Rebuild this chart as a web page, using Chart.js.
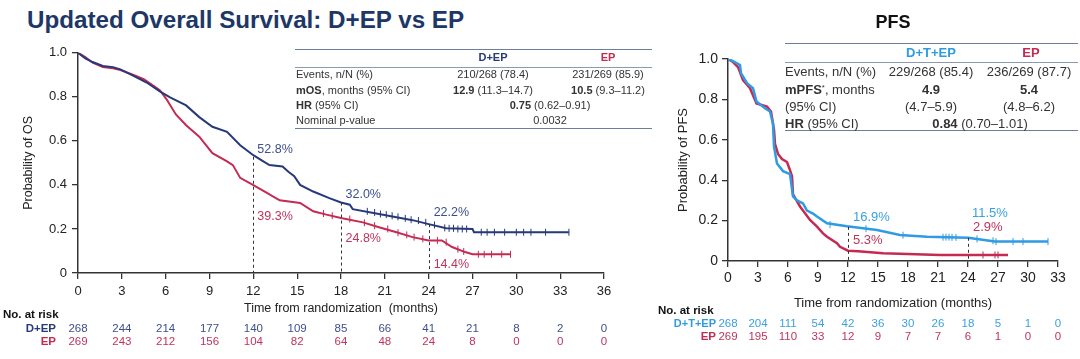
<!DOCTYPE html>
<html><head><meta charset="utf-8">
<script src="https://cdn.jsdelivr.net/npm/chart.js@4/dist/chart.umd.min.js"></script>
<style>
body{margin:0;width:1080px;height:359px;background:#fff;position:relative;overflow:hidden;font-family:"Liberation Sans",Arial,sans-serif;color:#333;}
.t{position:absolute;white-space:nowrap;line-height:1.2;}
.hl{position:absolute;height:0;}
canvas{position:absolute;}
sup{font-size:0.6em;vertical-align:0.5em;line-height:0;}
</style></head><body>
<canvas id="os" width="620" height="280" style="left:0;top:40px;width:620px;height:280px"></canvas>
<canvas id="pfs" width="420" height="285" style="left:660px;top:30px;width:420px;height:285px"></canvas>
<script>
// ---------- DATA ----------
const osTitle = 'Updated Overall Survival: D+EP vs EP';
const pfsTitle = 'PFS';
const osSeriesNames = ['D+EP', 'EP'];
const pfsSeriesNames = ['D+T+EP', 'EP'];
const osYTickLabels = ['0', '0.2', '0.4', '0.6', '0.8', '1.0'];
const pfsYTickLabels = ['0', '0.2', '0.4', '0.6', '0.8', '1.0'];

// OS Kaplan-Meier curves (months, probability)
const osDepTime = [0,0.5,1.0,1.7,2.4,2.9,3.8,4.7,5.6,6.3,7.4,8.3,9.2,10.2,11.1,12.0,12.6,13.1,14.0,14.4,14.8,15.2,16.1,17.2,18.0,18.6,18.8,20.6,22.9,24.0,25.2,27.0,27.1,33.6];
const osDepProb = [1.0,0.975,0.958,0.94,0.935,0.925,0.895,0.865,0.825,0.798,0.761,0.708,0.664,0.641,0.58,0.535,0.51,0.49,0.484,0.46,0.44,0.40,0.37,0.34,0.32,0.31,0.29,0.268,0.24,0.222,0.203,0.20,0.185,0.185];
const osEpTime = [0,0.5,1.0,1.7,2.4,2.9,3.8,4.5,5.6,6.05,6.7,7.4,8.3,9.2,10.2,10.6,11.1,12.0,12.9,13.8,14.7,15.2,16.1,17.0,18.0,19.5,20.6,21.8,22.9,24.0,24.9,25.6,26.5,27.0,29.6];
const osEpProb = [1.0,0.98,0.955,0.935,0.93,0.922,0.9,0.88,0.83,0.79,0.72,0.671,0.619,0.544,0.507,0.49,0.432,0.399,0.365,0.33,0.322,0.318,0.28,0.265,0.25,0.23,0.208,0.185,0.163,0.148,0.148,0.118,0.095,0.085,0.085];
const osDepCensTime = [19.8,20.3,20.7,21.1,21.5,21.9,22.4,22.8,23.3,23.8,24.4,25.1,25.4,25.7,26.0,26.3,26.6,27.6,28.0,28.5,29.2,30.0,30.5,31.0,32.0,33.6];
const osDepCensProb = [0.28,0.275,0.268,0.265,0.26,0.255,0.248,0.242,0.238,0.23,0.218,0.205,0.203,0.203,0.2,0.2,0.2,0.185,0.185,0.185,0.185,0.185,0.185,0.185,0.185,0.185];
const osEpCensTime = [16.8,17.4,18.6,19.6,20.3,21.2,21.9,22.5,23.0,23.6,24.6,25.2,26.0,26.4,27.4,27.8,28.3,29.0,29.6];
const osEpCensProb = [0.27,0.26,0.245,0.228,0.215,0.2,0.183,0.173,0.163,0.155,0.148,0.14,0.108,0.098,0.085,0.085,0.085,0.085,0.085];

// PFS Kaplan-Meier curves
const pfsDtepTime = [0,0.5,1.2,1.3,1.9,2.5,2.85,3.7,4.2,4.5,4.6,4.9,5.5,6.2,6.5,6.9,7.5,7.9,8.5,8.9,9.9,11.9,14.9,17.2,19.9,24.0,24.9,26.7,32.0];
const pfsDtepProb = [1.0,0.99,0.97,0.93,0.88,0.855,0.79,0.756,0.74,0.68,0.566,0.483,0.445,0.43,0.32,0.30,0.285,0.25,0.235,0.22,0.187,0.172,0.153,0.129,0.12,0.115,0.109,0.096,0.096];
const pfsEpTime = [0,0.5,1.0,1.5,2.2,2.85,3.9,4.3,4.6,4.7,5.0,5.4,5.9,6.2,6.4,6.5,7.2,7.5,8.2,8.9,9.5,9.9,10.9,11.2,12.0,13.0,15.5,21.2,28.0];
const pfsEpProb = [1.0,0.985,0.96,0.895,0.855,0.78,0.764,0.74,0.65,0.58,0.53,0.505,0.49,0.45,0.42,0.33,0.27,0.25,0.203,0.17,0.137,0.12,0.088,0.07,0.051,0.048,0.038,0.03,0.03];
const pfsDtepCensTime = [10.2,13.8,17.5,21.5,21.8,22.1,22.4,22.8,24.9,26.5,26.8,28.5,29.5,32.0];
const pfsDtepCensProb = [0.18,0.16,0.128,0.118,0.118,0.118,0.117,0.117,0.109,0.1,0.096,0.096,0.096,0.096];
const pfsEpCensTime = [25.5,26.7,27.0];
const pfsEpCensProb = [0.03,0.03,0.03];

// Landmarks
const osLandmarkTime = [12, 18, 24];
const osLandmarkDep = [0.528, 0.320, 0.222];
const osLandmarkEp = [0.393, 0.248, 0.144];
const pfsLandmarkTime = [12, 24];
const pfsLandmarkDtep = [0.169, 0.115];
const pfsLandmarkEp = [0.053, 0.029];

// Number at risk
const osRiskTime = [0,3,6,9,12,15,18,21,24,27,30,33,36];
const osRiskDep = [268,244,214,177,140,109,85,66,41,21,8,2,0];
const osRiskEp = [269,243,212,156,104,82,64,48,24,8,0,0,0];
const pfsRiskTime = [0,3,6,9,12,15,18,21,24,27,30,33];
const pfsRiskDtep = [268,204,111,54,42,36,30,26,18,5,1,0];
const pfsRiskEp = [269,195,110,33,12,9,7,7,6,1,0,0];

// Summary tables
const osTableRowLabels = ['Events, n/N (%)', '<b>mOS</b>, months (95% CI)', '<b>HR</b> (95% CI)', 'Nominal p-value'];
const osTableDep = ['210/268 (78.4)', '<b>12.9</b> (11.3–14.7)'];
const osTableEp = ['231/269 (85.9)', '<b>10.5</b> (9.3–11.2)'];
const osTableJoint = ['<b>0.75</b> (0.62–0.91)', '0.0032'];
const pfsTableRowLabels = ['Events, n/N (%)', '<b>mPFS</b><sup>*</sup>, months', '(95% CI)', '<b>HR</b> (95% CI)'];
const pfsTableDtep = ['229/268 (85.4)', '<b>4.9</b>', '(4.7–5.9)'];
const pfsTableEp = ['236/269 (87.7)', '<b>5.4</b>', '(4.8–6.2)'];
const pfsTableJoint = ['<b>0.84</b> (0.70–1.01)'];

// ---------- STYLE ----------
const NAVY = '#26397a', CRIMSON = '#c42a52', LBLUE = '#2f9be3';
const NAVY_T = '#3d4f8c', CRIMSON_T = '#c0345a', LBLUE_T = '#3aa0e2';
const AX = '#333';
const FONT = '"Liberation Sans", Arial, sans-serif';

function put(html, x, y, o) {
  o = o || {};
  const d = document.createElement('div');
  d.className = 't';
  d.innerHTML = html;
  d.style.left = x + 'px';
  d.style.top = y + 'px';
  d.style.fontSize = (o.size || 12) + 'px';
  if (o.weight) d.style.fontWeight = o.weight;
  d.style.color = o.color || '#333';
  const a = o.align || 'left';
  const tx = a === 'center' ? '-50%' : (a === 'right' ? '-100%' : '0');
  d.style.transform = 'translate(' + tx + ',-50%)';
  document.body.appendChild(d);
  return d;
}
function hline(x1, x2, y, w, c) {
  const d = document.createElement('div');
  d.className = 'hl';
  d.style.left = x1 + 'px'; d.style.width = (x2 - x1) + 'px';
  d.style.top = (y - w / 2) + 'px';
  d.style.borderTop = w + 'px solid ' + c;
  document.body.appendChild(d);
}
const pts = (xs, ys) => xs.map((x, i) => ({x: x, y: ys[i]}));

const lineDs = (label, xs, ys, color, w) => ({
  type: 'line', label: label, data: pts(xs, ys), borderColor: color, backgroundColor: color,
  borderWidth: w, pointRadius: 0, tension: 0, fill: false, showLine: true
});
const censDs = (label, xs, ys, color) => ({
  type: 'scatter', label: label, data: pts(xs, ys), borderColor: color, backgroundColor: color,
  pointStyle: 'line', rotation: 90, pointRadius: 3.5, borderWidth: 1, showLine: false
});

const landmarkPlugin = {
  id: 'landmarks',
  afterDatasetsDraw(chart, args, opts) {
    const ctx = chart.ctx, xs = chart.scales.x, ys = chart.scales.y;
    ctx.save();
    ctx.strokeStyle = '#333'; ctx.lineWidth = 1; ctx.setLineDash([3, 3]);
    opts.times.forEach((t, i) => {
      const px = Math.round(xs.getPixelForValue(t)) + 0.5;
      ctx.beginPath();
      ctx.moveTo(px, ys.getPixelForValue(opts.tops[i]));
      ctx.lineTo(px, ys.getPixelForValue(0));
      ctx.stroke();
    });
    ctx.restore();
  }
};

function axes(cfg) {
  return {
    x: {
      type: 'linear', min: 0, max: cfg.xmax,
      afterFit: s => { s.height = cfg.xh; },
      afterBuildTicks: s => { s.ticks = cfg.xticks.map(v => ({value: v})); },
      ticks: {color: '#222', font: {family: FONT, size: cfg.tickSize}, padding: cfg.xpad, maxRotation: 0, autoSkip: false},
      grid: {drawOnChartArea: false, drawTicks: true, tickLength: 6, color: AX, lineWidth: 1.3},
      border: {color: AX, width: 1.5},
      title: {display: true, text: cfg.xtitle, color: '#222', font: {family: FONT, size: cfg.titleSize}, padding: {top: 0, bottom: 4}}
    },
    y: {
      type: 'linear', min: 0, max: 1,
      afterFit: s => { s.width = cfg.yw; },
      afterBuildTicks: s => { s.ticks = [0, 0.2, 0.4, 0.6, 0.8, 1.0].map(v => ({value: v})); },
      ticks: {color: '#222', font: {family: FONT, size: cfg.tickSize}, padding: cfg.ypad,
        callback: (v, i) => cfg.ylabels[i]},
      grid: {drawOnChartArea: false, drawTicks: true, tickLength: 6, color: AX, lineWidth: 1.3},
      border: {color: AX, width: 1.5},
      title: {display: true, text: cfg.ytitle, color: '#222', font: {family: FONT, size: cfg.ytitleSize}, padding: {top: cfg.ytpad, bottom: 0}}
    }
  };
}

// ---------- OS CHART ----------
const osChart = new Chart(document.getElementById('os'), {
  data: {datasets: [
    lineDs(osSeriesNames[0], osDepTime, osDepProb, NAVY, 2),
    lineDs(osSeriesNames[1], osEpTime, osEpProb, CRIMSON, 2),
    censDs(osSeriesNames[0] + ' censored', osDepCensTime, osDepCensProb, NAVY),
    censDs(osSeriesNames[1] + ' censored', osEpCensTime, osEpCensProb, CRIMSON)
  ]},
  options: {
    responsive: false, animation: false, devicePixelRatio: 1,
    layout: {padding: {top: 10, right: 16, left: 0, bottom: 0}},
    plugins: {legend: {display: false}, tooltip: {enabled: false},
      landmarks: {times: osLandmarkTime, tops: osLandmarkDep}},
    scales: axes({xmax: 36, xh: 47, xticks: osRiskTime, tickSize: 13, xpad: 5, ypad: 5,
      xtitle: 'Time from randomization  (months)', titleSize: 12.5, yw: 78, ylabels: osYTickLabels,
      ytitle: 'Probability of OS', ytitleSize: 12.5, ytpad: 21})
  },
  plugins: [landmarkPlugin]
});

// ---------- PFS CHART ----------
const pfsChart = new Chart(document.getElementById('pfs'), {
  data: {datasets: [
    lineDs(pfsSeriesNames[0], pfsDtepTime, pfsDtepProb, LBLUE, 2.5),
    lineDs(pfsSeriesNames[1], pfsEpTime, pfsEpProb, CRIMSON, 2.5),
    censDs(pfsSeriesNames[0] + ' censored', pfsDtepCensTime, pfsDtepCensProb, LBLUE),
    censDs(pfsSeriesNames[1] + ' censored', pfsEpCensTime, pfsEpCensProb, CRIMSON)
  ]},
  options: {
    responsive: false, animation: false, devicePixelRatio: 1,
    layout: {padding: {top: 29, right: 22, left: 0, bottom: 0}},
    plugins: {legend: {display: false}, tooltip: {enabled: false},
      landmarks: {times: pfsLandmarkTime, tops: pfsLandmarkDtep}},
    scales: axes({xmax: 33, xh: 54, xticks: pfsRiskTime, tickSize: 14, xpad: 3, ypad: 4,
      xtitle: 'Time from randomization (months)', titleSize: 13, yw: 68, ylabels: pfsYTickLabels,
      ytitle: 'Probability of PFS', ytitleSize: 13, ytpad: 16})
  },
  plugins: [landmarkPlugin]
});

// ---------- TEXT OVERLAYS ----------
put(osTitle, 27, 20, {size: 24.2, weight: 'bold', color: '#1d3767'});
put(pfsTitle, 893, 23, {size: 18, weight: 'bold', color: '#111', align: 'center'});

function px(chart, canvasLeft, canvasTop, t, p) {
  return [canvasLeft + chart.scales.x.getPixelForValue(t), canvasTop + chart.scales.y.getPixelForValue(p)];
}

// landmark labels
const osLblOff = [[4, -8, 4, 30], [4.5, -9, 4.5, 20], [5, -12, 5, 23]];
osLandmarkTime.forEach((t, i) => {
  const a = px(osChart, 0, 40, t, osLandmarkDep[i]);
  const b = px(osChart, 0, 40, t, osLandmarkEp[i]);
  put((osLandmarkDep[i] * 100).toFixed(1) + '%', a[0] + osLblOff[i][0], a[1] + osLblOff[i][1], {size: 12.5, color: NAVY_T});
  put((osLandmarkEp[i] * 100).toFixed(1) + '%', b[0] + osLblOff[i][2], b[1] + osLblOff[i][3], {size: 12.5, color: CRIMSON_T});
});
const pfsLblOff = [[5, -10, 5, -10], [4, -25, 5, -28]];
pfsLandmarkTime.forEach((t, i) => {
  const a = px(pfsChart, 660, 30, t, pfsLandmarkDtep[i]);
  const b = px(pfsChart, 660, 30, t, pfsLandmarkEp[i]);
  put((pfsLandmarkDtep[i] * 100).toFixed(1) + '%', a[0] + pfsLblOff[i][0], a[1] + pfsLblOff[i][1], {size: 13, color: LBLUE_T});
  put((pfsLandmarkEp[i] * 100).toFixed(1) + '%', b[0] + pfsLblOff[i][2], b[1] + pfsLblOff[i][3], {size: 13, color: CRIMSON_T});
});

// risk tables
put('No. at risk', 3, 315, {size: 11.5, weight: 'bold', color: '#111'});
put(osSeriesNames[0], 56, 329, {size: 11.5, weight: 'bold', color: NAVY, align: 'right'});
put(osSeriesNames[1], 56, 342, {size: 11.5, weight: 'bold', color: CRIMSON, align: 'right'});
osRiskTime.forEach((t, i) => {
  const x = osChart.scales.x.getPixelForValue(t);
  put(String(osRiskDep[i]), x, 329, {size: 11.5, color: NAVY_T, align: 'center'});
  put(String(osRiskEp[i]), x, 342, {size: 11.5, color: CRIMSON_T, align: 'center'});
});
put('No. at risk', 658, 311, {size: 11.5, weight: 'bold', color: '#111'});
put(pfsSeriesNames[0], 716, 324, {size: 11, weight: 'bold', color: LBLUE, align: 'right'});
put(pfsSeriesNames[1], 716, 337, {size: 11.5, weight: 'bold', color: CRIMSON, align: 'right'});
pfsRiskTime.forEach((t, i) => {
  const x = 660 + pfsChart.scales.x.getPixelForValue(t);
  put(String(pfsRiskDtep[i]), x, 324, {size: 11.5, color: LBLUE_T, align: 'center'});
  put(String(pfsRiskEp[i]), x, 337, {size: 11.5, color: CRIMSON_T, align: 'center'});
});

// OS summary table
const TL = '#6c7e98';
hline(295, 652, 50, 1.5, TL);
hline(295, 652, 67, 1, '#8c9bb0');
hline(295, 652, 129, 1.5, TL);
put(osSeriesNames[0], 493, 58, {size: 11, weight: 'bold', color: NAVY, align: 'center'});
put(osSeriesNames[1], 608, 58, {size: 11, weight: 'bold', color: CRIMSON, align: 'center'});
const osRowY = [74.5, 90.5, 105.5, 120.5];
osTableRowLabels.forEach((l, i) => put(l, 296, osRowY[i], {size: 11, color: '#333'}));
osTableDep.forEach((v, i) => put(v, 493, osRowY[i], {size: 11, color: '#333', align: 'center'}));
osTableEp.forEach((v, i) => put(v, 608, osRowY[i], {size: 11, color: '#333', align: 'center'}));
osTableJoint.forEach((v, i) => put(v, 550, osRowY[i + 2], {size: 11, color: '#333', align: 'center'}));

// PFS summary table
hline(785, 1078, 43.5, 1.5, TL);
hline(785, 1078, 62, 1, '#8c9bb0');
hline(785, 1078, 131, 1.5, TL);
put(pfsSeriesNames[0], 931, 53, {size: 13, weight: 'bold', color: LBLUE, align: 'center'});
put(pfsSeriesNames[1], 1031, 53, {size: 13, weight: 'bold', color: CRIMSON, align: 'center'});
const pfsRowY = [72, 90, 107, 124];
pfsTableRowLabels.forEach((l, i) => put(l, 785, pfsRowY[i], {size: 13, color: '#333'}));
pfsTableDtep.forEach((v, i) => put(v, 931, pfsRowY[i], {size: 13, color: '#333', align: 'center'}));
pfsTableEp.forEach((v, i) => put(v, 1029, pfsRowY[i], {size: 13, color: '#333', align: 'center'}));
pfsTableJoint.forEach((v, i) => put(v, 980, pfsRowY[3 + i], {size: 13, color: '#333', align: 'center'}));
</script>
</body></html>
